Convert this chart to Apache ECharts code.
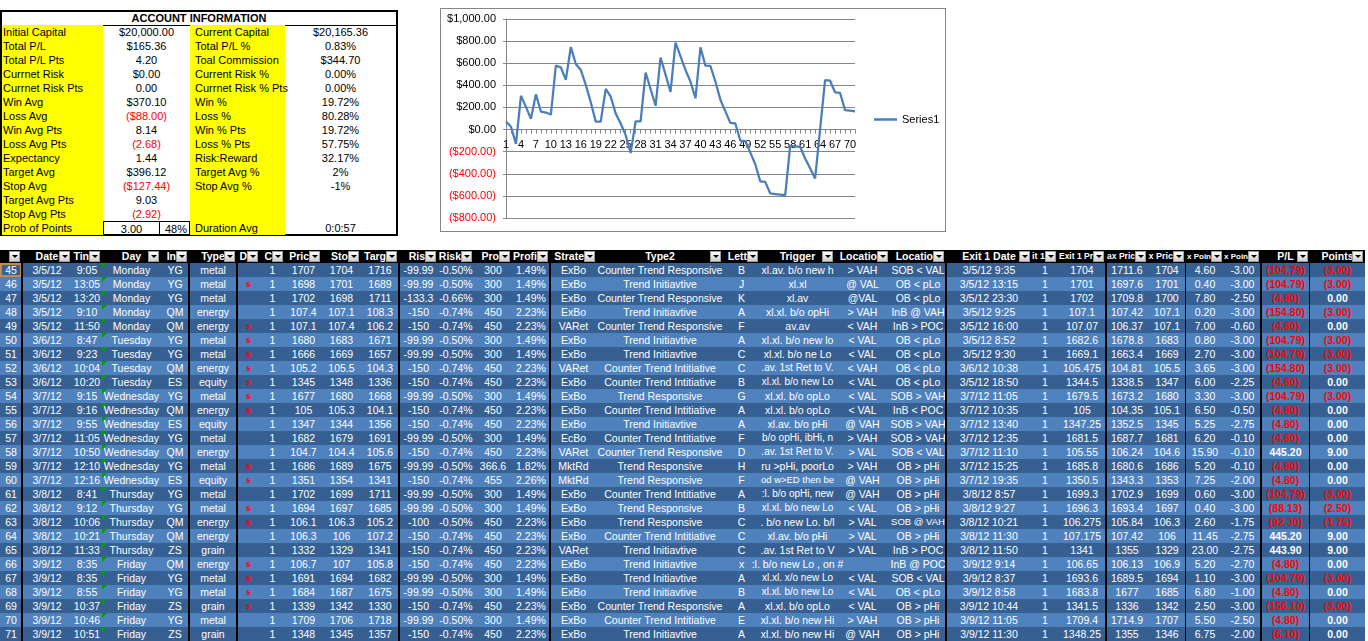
<!DOCTYPE html>
<html>
<head>
<meta charset="utf-8">
<script src="https://cdn.jsdelivr.net/npm/echarts@6/dist/echarts.min.js"></script>
<style>
    body { margin: 0; width: 1368px; height: 641px; overflow: hidden; background: #fff;
           font-family: "Liberation Sans", Arial, sans-serif; font-size: 11px; position: relative; }
    .abs { position: absolute; }
    .cell { position: absolute; height: 14px; line-height: 14px; display: flex; justify-content: center;
            align-items: center; overflow: hidden; white-space: nowrap; }
    .lbl { justify-content: flex-start; box-sizing: border-box; overflow: visible; }
    .red { color: #ff0000; }
    #sheet .cell { font-size: 10.5px; }
    .btn { position: absolute; width: 11px; height: 11px; box-sizing: border-box; border: 1px solid #9a9a9a;
           background: linear-gradient(#fdfdfd, #cfcfcf); }
    .btn:after { content: ""; position: absolute; left: 2px; top: 3px; border-left: 3px solid transparent;
                 border-right: 3px solid transparent; border-top: 3px solid #000; }
    .tri { position: absolute; width: 0; height: 0; border-top: 5px solid #00a000; border-right: 5px solid transparent; }
</style>
</head>
<body>
<div id="acct" class="abs" style="left:0;top:10px;width:398px;height:226px;"></div>
<div id="chart" class="abs" style="left:440px;top:8px;width:506px;height:224px;"></div>
<div class="abs" style="left:440px;top:8px;width:506px;height:224px;box-sizing:border-box;border:1px solid #868686;pointer-events:none;"></div>
<div id="sheet" class="abs" style="left:0;top:250px;width:1368px;height:391px;"></div>
<script>
// ---- account information block ----
var acctLabelsL = ["Initial Capital", "Total P/L", "Total P/L Pts", "Currnet Risk", "Currnet Risk Pts", "Win Avg",
    "Loss Avg", "Win Avg Pts", "Loss Avg Pts", "Expectancy", "Target Avg", "Stop Avg", "Target Avg Pts",
    "Stop Avg Pts", "Prob of Points"]
var acctValuesL = ["$20,000.00", "$165.36", "4.20", "$0.00", "0.00", "$370.10", "($88.00)", "8.14", "(2.68)",
    "1.44", "$396.12", "($127.44)", "9.03", "(2.92)", "3.00"]
var probPct = "48%"
var acctLabelsR = ["Current Capital", "Total P/L %", "Toal Commission", "Current Risk %", "Currnet Risk % Pts",
    "Win %", "Loss %", "Win % Pts", "Loss % Pts", "Risk:Reward", "Target Avg %", "Stop Avg %", "", "", "Duration Avg"]
var acctValuesR = ["$20,165.36", "0.83%", "$344.70", "0.00%", "0.00%", "19.72%", "80.28%", "19.72%", "57.75%",
    "32.17%", "2%", "-1%", "", "", "0:0:57"]

// ---- equity curve (cumulative P/L per trade) ----
var tradeNo = []
for (var t = 1; t <= 71; t++) tradeNo.push(String(t))
var cumPL = [72, 25, -130, 305, 205, 97, 318, 163, 154, 136,
    578, 563, 449, 747, 593, 539, 404, 247, 72, 72,
    367, 298, 145, 55, -50, -212, 75, 75, 516, 367,
    215, 651, 497, 340, 787, 662, 539, 434, 283, 744,
    578, 575, 434, 269.62, 164.83, 60.04, 55.24, -99.56, -104.36, -209.15,
    -313.94, -468.74, -473.54, -578.33, -583.13, -587.93, -592.73, -147.53, -152.33, -157.13,
    -261.92, -350.05, -442.35, 2.85, 446.75, 441.95, 337.16, 332.36, 176.26, 171.46,
    165.36]

// ---- trade log columns ----
var rowNums = [45, 46, 47, 48, 49, 50, 51, 52, 53, 54, 55, 56, 57, 58, 59, 60, 61, 62, 63, 64, 65, 66, 67, 68, 69, 70, 71]
var dates = ["3/5/12", "3/5/12", "3/5/12", "3/5/12", "3/5/12", "3/6/12", "3/6/12", "3/6/12", "3/6/12", "3/7/12",
    "3/7/12", "3/7/12", "3/7/12", "3/7/12", "3/7/12", "3/7/12", "3/8/12", "3/8/12", "3/8/12", "3/8/12", "3/8/12",
    "3/9/12", "3/9/12", "3/9/12", "3/9/12", "3/9/12", "3/9/12"]
var times = ["9:05", "13:05", "13:20", "9:10", "11:50", "8:47", "9:23", "10:04", "10:20", "9:15", "9:16", "9:55",
    "11:05", "10:50", "12:10", "12:16", "8:41", "9:12", "10:06", "10:21", "11:33", "8:35", "8:35", "8:55", "10:37",
    "10:46", "10:51"]
var days = ["Monday", "Monday", "Monday", "Monday", "Monday", "Tuesday", "Tuesday", "Tuesday", "Tuesday",
    "Wednesday", "Wednesday", "Wednesday", "Wednesday", "Wednesday", "Wednesday", "Wednesday", "Thursday",
    "Thursday", "Thursday", "Thursday", "Thursday", "Friday", "Friday", "Friday", "Friday", "Friday", "Friday"]
var instruments = ["YG", "YG", "YG", "QM", "QM", "YG", "YG", "QM", "ES", "YG", "QM", "ES", "YG", "QM", "YG", "ES",
    "YG", "YG", "QM", "QM", "ZS", "QM", "YG", "YG", "ZS", "YG", "ZS"]
var types = ["metal", "metal", "metal", "energy", "energy", "metal", "metal", "energy", "equity", "metal", "energy",
    "equity", "metal", "energy", "metal", "equity", "metal", "metal", "energy", "energy", "grain", "energy", "metal",
    "metal", "grain", "metal", "grain"]
var dirs = ["", "s", "", "", "s", "s", "s", "s", "s", "s", "s", "", "", "", "s", "s", "", "s", "s", "", "", "s", "s",
    "s", "s", "", ""]
var contracts = ["1", "1", "1", "1", "1", "1", "1", "1", "1", "1", "1", "1", "1", "1", "1", "1", "1", "1", "1", "1",
    "1", "1", "1", "1", "1", "1", "1"]
var prices = ["1707", "1698", "1702", "107.4", "107.1", "1680", "1666", "105.2", "1345", "1677", "105", "1347",
    "1682", "104.7", "1686", "1351", "1702", "1694", "106.1", "106.3", "1332", "106.7", "1691", "1684", "1339",
    "1709", "1348"]
var stops = ["1704", "1701", "1698", "107.1", "107.4", "1683", "1669", "105.5", "1348", "1680", "105.3", "1344",
    "1679", "104.4", "1689", "1354", "1699", "1697", "106.3", "106", "1329", "107", "1694", "1687", "1342", "1706",
    "1345"]
var targets = ["1716", "1689", "1711", "108.3", "106.2", "1671", "1657", "104.3", "1336", "1668", "104.1", "1356",
    "1691", "105.6", "1675", "1341", "1711", "1685", "105.2", "107.2", "1341", "105.8", "1682", "1675", "1330",
    "1718", "1357"]
var risks = ["-99.99", "-99.99", "-133.3", "-150", "-150", "-99.99", "-99.99", "-150", "-150", "-99.99", "-150",
    "-150", "-99.99", "-150", "-99.99", "-150", "-99.99", "-99.99", "-100", "-150", "-150", "-150", "-99.99",
    "-99.99", "-150", "-99.99", "-150"]
var riskPcts = ["-0.50%", "-0.50%", "-0.66%", "-0.74%", "-0.74%", "-0.50%", "-0.50%", "-0.74%", "-0.74%", "-0.50%",
    "-0.74%", "-0.74%", "-0.50%", "-0.74%", "-0.50%", "-0.74%", "-0.50%", "-0.50%", "-0.50%", "-0.74%", "-0.74%",
    "-0.74%", "-0.50%", "-0.50%", "-0.74%", "-0.50%", "-0.74%"]
var profits = ["300", "300", "300", "450", "450", "300", "300", "450", "450", "300", "450", "450", "300", "450",
    "366.6", "455", "300", "300", "450", "450", "450", "450", "300", "300", "450", "300", "450"]
var profitPcts = ["1.49%", "1.49%", "1.49%", "2.23%", "2.23%", "1.49%", "1.49%", "2.23%", "2.23%", "1.49%", "2.23%",
    "2.23%", "1.49%", "2.23%", "1.82%", "2.26%", "1.49%", "1.49%", "2.23%", "2.23%", "2.23%", "2.23%", "1.49%",
    "1.49%", "2.23%", "1.49%", "2.23%"]
var strategies = ["ExBo", "ExBo", "ExBo", "ExBo", "VARet", "ExBo", "ExBo", "VARet", "ExBo", "ExBo", "ExBo", "ExBo",
    "EcBo", "VARet", "MktRd", "MktRd", "ExBo", "ExBo", "ExBo", "ExBo", "VARet", "ExBo", "ExBo", "ExBo", "ExBo",
    "ExBo", "ExBo"]
var types2 = ["Counter Trend Responsive", "Trend Initiavtive", "Counter Trend Responsive", "Trend Initiavtive",
    "Counter Trend Responsive", "Trend Initiavtive", "Trend Initiavtive", "Counter Trend Intitiative",
    "Counter Trend Intitiative", "Trend Responsive", "Counter Trend Intitiative", "Trend Initiavtive",
    "Counter Trend Intitiative", "Counter Trend Responsive", "Trend Responsive", "Trend Responsive",
    "Counter Trend Intitiative", "Trend Responsive", "Trend Responsive", "Counter Trend Intitiative",
    "Trend Initiavtive", "Trend Initiavtive", "Trend Initiavtive", "Trend Initiavtive", "Counter Trend Responsive",
    "Counter Trend Intitiative", "Trend Initiavtive"]
var letters = ["B", "J", "K", "A", "F", "A", "C", "C", "B", "G", "A", "A", "F", "D", "H", "F", "A", "B", "C", "C",
    "C", "x", "A", "B", "A", "E", "A"]
var triggers = ["xl.av. b/o new h", "xl.xl", "xl.av", "xl.xl. b/o opHi", "av.av", "xl.xl. b/o new lo",
    "xl.xl. b/o ne Lo", ".av. 1st Ret to V.", "xl.xl. b/o new Lo", "xl.xl. b/o opLo", "xl.xl. b/o opLo",
    "xl.av. b/o pHi", "b/o opHi, ibHi, n", ".av. 1st Ret to V.", "ru >pHi, poorLo", "od w>ED then be",
    ":l. b/o opHi, new", "xl.xl. b/o new Lo", ". b/o new Lo. b/l", "xl.av. b/o pHi", ".av. 1st Ret to V",
    ":l. b/o new Lo , on #", "xl.xl. x/o new Lo", "xl.xl. b/o new Lo", "xl.xl. b/o opLo", "xl.xl. b/o new Hi",
    "xl.xl. b/o new Hi"]
var locations = ["> VAH", "@ VAL", "@VAL", "> VAH", "< VAH", "< VAL", "< VAL", "< VAH", "< VAL", "< VAL", "< VAL",
    "@ VAH", "> VAH", "> VAL", "> VAH", "@ VAH", "@ VAH", "< VAL", "> VAL", "> VAL", "> VAL", "", "< VAL", "< VAL",
    "< VAL", "> VAH", "@ VAH"]
var locations2 = ["SOB < VAL", "OB < pLo", "OB < pLo", "InB @ VAH", "InB > POC", "OB < pLo", "OB < pLo", "OB < pLo",
    "OB < pLo", "SOB > VAH", "InB < POC", "SOB > VAH", "SOB > VAH", "SOB < VAL", "OB > pHi", "OB > pHi",
    "OB > pHi", "OB > pHi", "SOB @ VAH", "OB > pHi", "InB > POC", "InB @ POC", "SOB < VAL", "OB < pLo", "OB > pHi",
    "OB > pHi", "OB > pHi"]
var exitDates = ["3/5/12 9:35", "3/5/12 13:15", "3/5/12 23:30", "3/5/12 9:25", "3/5/12 16:00", "3/5/12 8:52",
    "3/5/12 9:30", "3/6/12 10:38", "3/5/12 18:50", "3/7/12 11:05", "3/7/12 10:35", "3/7/12 13:40", "3/7/12 12:35",
    "3/7/12 11:10", "3/7/12 15:25", "3/7/12 19:35", "3/8/12 8:57", "3/8/12 9:27", "3/8/12 10:21", "3/8/12 11:30",
    "3/8/12 11:50", "3/9/12 9:14", "3/9/12 8:37", "3/9/12 8:58", "3/9/12 10:44", "3/9/12 11:05", "3/9/12 11:30"]
var exitQty = contracts
var exitPrices = ["1704", "1701", "1702", "107.1", "107.07", "1682.6", "1669.1", "105.475", "1344.5", "1679.5",
    "105", "1347.25", "1681.5", "105.55", "1685.8", "1350.5", "1699.3", "1696.3", "106.275", "107.175", "1341",
    "106.65", "1693.6", "1683.8", "1341.5", "1709.4", "1348.25"]
var maxPrices = ["1711.6", "1697.6", "1709.8", "107.42", "106.37", "1678.8", "1663.4", "104.81", "1338.5", "1673.2",
    "104.35", "1352.5", "1687.7", "106.24", "1680.6", "1343.3", "1702.9", "1693.4", "105.84", "107.42", "1355",
    "106.13", "1689.5", "1677", "1336", "1714.9", "1355"]
var minPrices = ["1704", "1701", "1700", "107.1", "107.1", "1683", "1669", "105.5", "1347", "1680", "105.1", "1345",
    "1681", "104.6", "1686", "1353", "1699", "1697", "106.3", "106", "1329", "106.9", "1694", "1685", "1342",
    "1707", "1346"]
var maxPoints = ["4.60", "0.40", "7.80", "0.20", "7.00", "0.80", "2.70", "3.65", "6.00", "3.30", "6.50", "5.25",
    "6.20", "15.90", "5.20", "7.25", "0.60", "0.40", "2.60", "11.45", "23.00", "5.20", "1.10", "6.80", "2.50",
    "5.50", "6.75"]
var minPoints = ["-3.00", "-3.00", "-2.50", "-3.00", "-0.60", "-3.00", "-3.00", "-3.00", "-2.25", "-3.00", "-0.50",
    "-2.75", "-0.10", "-0.10", "-0.10", "-2.00", "-3.00", "-3.00", "-1.75", "-2.75", "-2.75", "-2.70", "-3.00",
    "-1.00", "-3.00", "-2.50", "-2.00"]
var pls = ["(104.79)", "(104.79)", "(4.80)", "(154.80)", "(4.80)", "(104.79)", "(104.79)", "(154.80)", "(4.80)",
    "(104.79)", "(4.80)", "(4.80)", "(4.80)", "445.20", "(4.80)", "(4.80)", "(104.79)", "(88.13)", "(92.30)",
    "445.20", "443.90", "(4.80)", "(104.79)", "(4.80)", "(156.10)", "(4.80)", "(6.10)"]
var points = ["(3.00)", "(3.00)", "0.00", "(3.00)", "0.00", "(3.00)", "(3.00)", "(3.00)", "0.00", "(3.00)", "0.00",
    "0.00", "0.00", "9.00", "0.00", "0.00", "(3.00)", "(2.50)", "(1.75)", "9.00", "9.00", "0.00", "(3.00)", "0.00",
    "(3.00)", "0.00", "0.00"]

// header texts as they show in the (narrow) columns
var colHeaders = ["", "Date", "Tin", "Day", "In", "Type", "D", "C", "Pric", "Sto", "Targ", "Ris", "Risk",
    "Pro", "Profi", "Strate", "Type2", "Lett", "Trigger", "Locatio", "Locatio", "Exit 1 Date", "it 1",
    "Exit 1 Pr", "ax Pric", "x Pric", "x Poin", "x Poin", "P/L", "Points"]
var headerAlign = "ccrcrcrrrrrrrrrrcrcrrcrrrrrrcc"
var colData = [rowNums, dates, times, days, instruments, types, dirs, contracts, prices, stops, targets, risks,
    riskPcts, profits, profitPcts, strategies, types2, letters, triggers, locations, locations2, exitDates, exitQty,
    exitPrices, maxPrices, minPrices, maxPoints, minPoints, pls, points]
var colWidths = [22, 50, 30, 59, 28, 48, 23, 25, 37, 39, 38, 39, 36, 38, 38, 47, 126, 37, 75, 55, 56, 86, 26, 48, 42,
    38, 38, 37, 49, 55]

function el(parent, cls, css, text) {
    var d = document.createElement('div')
    d.className = cls
    d.style.cssText = css
    if (text !== undefined) d.textContent = text
    parent.appendChild(d)
    return d
}

// shrink a cell's font until its text fits (Excel's font is narrower than ours)
function fit(cell, room) {
    var span = document.createElement('span')
    span.textContent = cell.textContent
    cell.textContent = ''
    cell.appendChild(span)
    var size = parseFloat(getComputedStyle(cell).fontSize)
    while (span.offsetWidth > room && size > 8) {
        size -= 0.5
        cell.style.fontSize = size + 'px'
    }
}

// 账户信息表
function drawAccount() {
    var box = document.getElementById('acct')
    el(box, 'abs', 'left:0;top:0;width:398px;height:226px;box-sizing:border-box;border:2px solid #000;')
    el(box, 'cell', 'left:2px;top:1px;width:394px;font-weight:bold;border-bottom:1px solid #000;', 'ACCOUNT INFORMATION')
    for (var i = 0; i < acctLabelsL.length; i++) {
        var top = 15 + i * 14
        el(box, 'abs', 'left:2px;top:' + top + 'px;width:101px;height:14px;background:#ffff00;')
        el(box, 'abs', 'left:190px;top:' + top + 'px;width:95px;height:14px;background:#ffff00;')
        el(box, 'cell lbl', 'left:3px;top:' + top + 'px;', acctLabelsL[i])
        el(box, 'cell lbl', 'left:195px;top:' + top + 'px;', acctLabelsR[i])
        var vl = acctValuesL[i]
        var cls = vl.charAt(0) == '(' ? 'cell red' : 'cell'
        if (i == acctLabelsL.length - 1) {
            el(box, cls, 'left:103px;top:' + top + 'px;width:57px;box-sizing:border-box;border-top:1px solid #000;border-right:1px solid #000;border-left:1px solid #000;', vl)
            el(box, 'cell', 'left:160px;top:' + top + 'px;width:30px;justify-content:flex-end;padding-right:2px;box-sizing:border-box;border-top:1px solid #000;border-right:1px solid #000;', probPct)
        } else {
            el(box, cls, 'left:103px;top:' + top + 'px;width:87px;', vl)
        }
        el(box, 'cell', 'left:285px;top:' + top + 'px;width:111px;', acctValuesR[i])
    }
}

function drawSheet() {
    var box = document.getElementById('sheet')
    el(box, 'abs', 'left:0;top:0;width:1365px;height:13px;background:#000;')
    var x = 0
    for (var c = 0; c < colWidths.length; c++) {
        var w = colWidths[c]
        var hcss = 'left:' + x + 'px;top:0;height:13px;line-height:13px;width:' + w + 'px;color:#fff;font-weight:bold;box-sizing:border-box;'
        var right = headerAlign.charAt(c) == 'r'
        if (right) hcss += 'justify-content:flex-end;padding-right:13px;'
        var h = el(box, 'cell', hcss, colHeaders[c])
        if (colHeaders[c]) fit(h, right ? w - 13 : w)
        el(box, 'btn', 'left:' + (x + w - 13) + 'px;top:1px;')
        for (var r = 0; r < rowNums.length; r++) {
            var top = 13 + r * 14
            var bg = rowNums[r] % 2 ? '#376092' : '#4f81bd'
            var v = String(colData[c][r])
            var css = 'left:' + x + 'px;top:' + top + 'px;width:' + w + 'px;background:' + bg + ';color:#fff;'
            if (c >= 28) css += 'font-weight:bold;' + (v.charAt(0) == '(' ? 'color:#ff0000;' : '')
            if (c == 6) css += 'color:#ff0000;font-size:9px;font-weight:bold;'
            // text may spill into an empty neighbour, like Excel does
            var spill = c + 1 < colData.length && colData[c + 1][r] === '' && v !== ''
            if (spill) css += 'overflow:visible;z-index:2;'
            var cell = el(box, 'cell', css, v)
            if (v && !spill) fit(cell, w - 1)
            if (c == 3) el(box, 'tri', 'left:' + x + 'px;top:' + top + 'px;')
        }
        x += w
    }
    // 选中单元格
    el(box, 'abs', 'left:0;top:13px;width:22px;height:14px;box-sizing:border-box;border:2px solid #c58a4a;')
    // column separators
    var seps = [[21, 2], [188, 2], [236, 2], [398, 2], [549, 2], [945, 2], [1105, 2], [1185, 1], [1260, 2], [1309, 1]]
    seps.forEach(function (s) {
        el(box, 'abs', 'left:' + s[0] + 'px;top:0;width:' + s[1] + 'px;height:391px;background:#000;z-index:3;')
    })
}

function money(v) {
    v = Number(v)
    var a = Math.abs(v).toFixed(2).split('.')
    var s = a[0].replace(/\B(?=(\d{3})+$)/g, ',') + '.' + a[1]
    return v < 0 ? '($' + s + ')' : '$' + s
}

function drawChart() {
    var myChart = echarts.init(document.getElementById('chart'))
    // x 轴放在 0 的位置：grid 底部到 0 线的距离
    var gridTop = 11, gridH = 199, yMin = -800, yMax = 1000
    var zeroShift = gridH * (0 - yMin) / (yMax - yMin)
    var option = {
        animation: false,
        textStyle: { fontFamily: 'Liberation Sans' },
        legend: {
            data: ['Series1'], left: 429, top: 101, icon: 'rect', itemWidth: 23, itemHeight: 2.5,
            textStyle: { fontSize: 11, color: '#000' }
        },
        grid: { left: 66, top: gridTop, width: 349, height: gridH },
        xAxis: {
            type: 'category', boundaryGap: false, data: tradeNo, position: 'bottom', offset: -zeroShift,
            axisLine: { onZero: false, lineStyle: { color: '#868686' } },
            axisTick: { interval: 0, length: 4, lineStyle: { color: '#868686' } },
            axisLabel: { interval: 2, color: '#000', fontSize: 11, margin: 10 }
        },
        yAxis: {
            type: 'value', min: yMin, max: yMax, interval: 200,
            axisLine: { show: true, lineStyle: { color: '#868686' } },
            axisTick: { show: true, length: 3, lineStyle: { color: '#868686' } },
            splitLine: { lineStyle: { color: '#868686' } },
            axisLabel: {
                formatter: money, fontSize: 11, margin: 10,
                color: function (v) { return Number(v) < 0 ? '#ff0000' : '#000' }
            }
        },
        series: [{
            name: 'Series1', type: 'line', data: cumPL, symbol: 'none', showSymbol: false,
            lineStyle: { width: 2.25, color: '#4a7ebb' }, itemStyle: { color: '#4a7ebb' }
        }]
    }
    myChart.setOption(option)
    window.addEventListener('resize', myChart.resize)
}

drawAccount()
drawSheet()
drawChart()
</script>
</body>
</html>
